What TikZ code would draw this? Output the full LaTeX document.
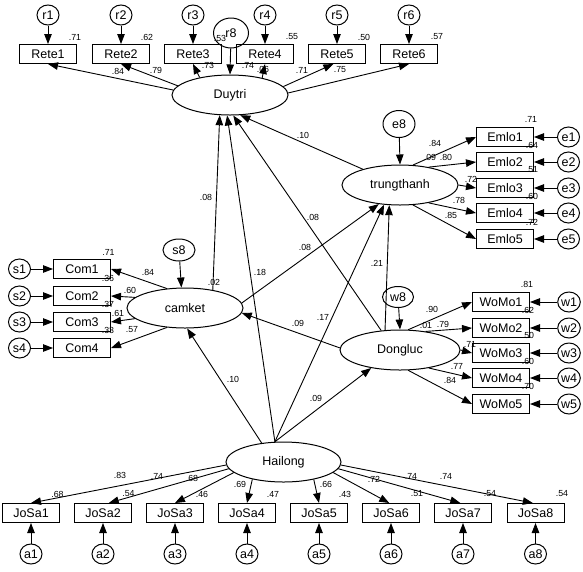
\documentclass[tikz,border=0pt]{standalone}
\usepackage{fontspec}
\setmainfont{Liberation Sans}
\usetikzlibrary{shapes.geometric,arrows.meta,calc}
\begin{document}
\begin{tikzpicture}[x=1pt,y=-1pt,
  lat/.style={ellipse,draw,line width=1pt,minimum width=116pt,minimum height=40pt,inner sep=0pt,font=\fontsize{12.5}{14}\selectfont},
  obs/.style={rectangle,draw,line width=1pt,minimum width=57pt,minimum height=19pt,inner sep=0pt,font=\fontsize{12.5}{14}\selectfont},
  err/.style={ellipse,draw,line width=1pt,minimum width=22pt,minimum height=20pt,inner sep=0pt,font=\fontsize{12.5}{14}\selectfont},
  num/.style={inner sep=0pt,font=\fontsize{8.8}{10}\selectfont},
  arr/.style={line width=0.9pt,-{Triangle[length=10pt,width=7.5pt]}}]
\useasboundingbox (0,0) rectangle (583,571);

% ---------- latent variables ----------
\node[lat] (dy) at (230,95) {Duytri};
\node[lat] (tt) at (400,185) {trungthanh};
\node[lat] (ck) at (185,308) {camket};
\node[lat,minimum width=120pt] (dl) at (400,350) {Dongluc};
\node[lat,minimum width=115pt] (hl) at (283.5,462) {Hailong};

% ---------- residuals of latents ----------
\node[err,minimum width=35pt,minimum height=30pt] (r8) at (231,33) {r8};
\node[err,minimum width=32pt,minimum height=27pt] (e8) at (399,124) {e8};
\node[err,minimum width=32pt,minimum height=22pt] (s8) at (179,250) {s8};
\node[err,minimum width=31pt,minimum height=21pt] (w8) at (398,297) {w8};

% ---------- Rete ----------
\foreach \i/\x in {1/48,2/121,3/193,4/265,5/337,6/409}{
  \node[obs] (Rete\i) at (\x,54) {Rete\i};
  \node[err] (r\i) at (\x,15) {r\i};
  \draw[arr] (r\i) -- (Rete\i.north);
}
% ---------- Emlo ----------
\foreach \i/\y in {1/137,2/162,3/188,4/213,5/239}{
  \node[obs] (Emlo\i) at (505,\y) {Emlo\i};
  \node[err] (e\i) at (568.5,\y) {e\i};
  \draw[arr] (e\i) -- (Emlo\i.east);
}
% ---------- Com ----------
\foreach \i/\y in {1/269,2/296,3/322,4/348}{
  \node[obs] (Com\i) at (82,\y) {Com\i};
  \node[err] (s\i) at (19.5,\y) {s\i};
  \draw[arr] (s\i) -- (Com\i.west);
}
% ---------- WoMo ----------
\foreach \i/\y in {1/302,2/328,3/353,4/378,5/404}{
  \node[obs] (WoMo\i) at (501,\y) {WoMo\i};
  \node[err] (w\i) at (569,\y) {w\i};
  \draw[arr] (w\i) -- (WoMo\i.east);
}
% ---------- JoSa ----------
\foreach \i/\x in {1/31,2/103,3/175,4/247,5/319,6/391,7/463,8/535.5}{
  \node[obs] (JoSa\i) at (\x,513) {JoSa\i};
  \node[err] (a\i) at (\x,554) {a\i};
  \draw[arr] (a\i) -- (JoSa\i.south);
}

% ---------- residual arrows to latents ----------
\draw[arr] (r8) -- (dy.north);
\draw[arr] (e8) -- (tt.north);
\draw[arr] (s8) -- (ck.100);
\draw[arr] (w8) -- (dl.north);

% ---------- loadings ----------
\draw[arr] (dy.175) -- (Rete1.south);
\draw[arr] (dy.170) -- (Rete2.south);
\draw[arr] (dy.150) -- (Rete3.south);
\draw[arr] (dy.28) -- (Rete4.south);
\draw[arr] (dy.9) -- (Rete5.-110);
\draw[arr] (dy.2) -- (Rete6.south);

\draw[arr] (tt.57) -- (Emlo1.west);
\draw[arr] (tt.32) -- (Emlo2.west);
\draw[arr] (tt.0) -- (Emlo3.west);
\draw[arr] (tt.-32) -- (Emlo4.west);
\draw[arr] (tt.-57) -- (Emlo5.west);

\draw[arr] (ck.133) -- (Com1.east);
\draw[arr] (ck.168) -- (Com2.east);
\draw[arr] (ck.-168) -- (Com3.east);
\draw[arr] (ck.-133) -- (Com4.east);

\draw[arr] (dl.68) -- (WoMo1.west);
\draw[arr] (dl.36) -- (WoMo2.west);
\draw[arr] (dl.0) -- (WoMo3.west);
\draw[arr] (dl.-32) -- (WoMo4.west);
\draw[arr] (dl.-68) -- (WoMo5.west);

\draw[arr] (hl.-177) -- (JoSa1.north);
\draw[arr] (hl.-173) -- (JoSa2.60);
\draw[arr] (hl.-168) -- (JoSa3.north);
\draw[arr] (hl.-151) -- (JoSa4.north);
\draw[arr] (hl.-30) -- (JoSa5.north);
\draw[arr] (hl.-12) -- (JoSa6.100);
\draw[arr] (hl.-7) -- (JoSa7.105);
\draw[arr] (hl.-3) -- (JoSa8.105);

% ---------- structural paths ----------
\draw[arr] (ck.33) -- (dy.-117);
\draw[arr] (hl.113) -- (dy.-98);
\draw[arr] (dl.134) -- (dy.-81);
\draw[arr] (tt.157) -- (dy.-63);
\draw[arr] (ck.5) -- (tt.-138);
\draw[arr] (hl.113) -- (tt.-129);
\draw[arr] (dl.127) -- (tt.-118);
\draw[arr] (dl.178) -- (ck.-5);
\draw[arr] (hl.139) -- (ck.-84);
\draw[arr] (hl.113) -- (dl.-148);

% ---------- numbers: Rete ----------
\node[num] (q1) at (75,37) {.71};
\node[num] (q2) at (147,37) {.62};
\node[num] (q3) at (220,38) {.53};
\node[num] (q4) at (292,37) {.55};
\node[num] (q5) at (364,37) {.50};
\node[num] (q6) at (437,37) {.57};
\node[num] (p1) at (118,71) {.84};
\node[num] (p2) at (156,70) {.79};
\node[num] (p3) at (208,65) {.73};
\node[num] (p4) at (248,65) {.74};
\node[num] (p5) at (302,70) {.71};
\node[num] (p6) at (340,70) {.75};
\node[num] (rdy) at (263,69) {.06};

% ---------- numbers: Emlo ----------
\node[num] (qe1) at (531,119) {.71};
\node[num] (qe2) at (532,145) {.64};
\node[num] (qe3) at (532,170) {.51};
\node[num] (qe4) at (532,196) {.60};
\node[num] (qe5) at (532,222) {.72};
\node[num] (pe1) at (435,143) {.84};
\node[num] (rtt) at (430,157) {.09};
\node[num] (pe2) at (446,157) {.80};
\node[num] (pe3) at (471,179) {.72};
\node[num] (pe4) at (459,200) {.78};
\node[num] (pe5) at (451,215) {.85};

% ---------- numbers: WoMo ----------
\node[num] (qw1) at (527,284) {.81};
\node[num] (qw2) at (528,310) {.62};
\node[num] (qw3) at (528,335) {.50};
\node[num] (qw4) at (528,361) {.60};
\node[num] (qw5) at (528,386) {.70};
\node[num] (pw1) at (432,309) {.90};
\node[num] (rdl) at (426,325) {.01};
\node[num] (pw2) at (443,324) {.79};
\node[num] (pw3) at (470,344) {.71};
\node[num] (pw4) at (457,366) {.77};
\node[num] (pw5) at (450,380) {.84};

% ---------- numbers: Com ----------
\node[num] (qc1) at (108.5,252) {.71};
\node[num] (qc2) at (108,278) {.36};
\node[num] (qc3) at (108,304) {.37};
\node[num] (qc4) at (108,330) {.33};
\node[num] (pc1) at (148,272) {.84};
\node[num] (pc2) at (130,290) {.60};
\node[num] (pc3) at (118,313) {.61};
\node[num] (pc4) at (132,330) {.57};
\node[num] (rck) at (214,282) {.02};

% ---------- numbers: JoSa ----------
\node[num] (qj1) at (57.5,494) {.68};
\node[num] (qj2) at (128.5,494) {.54};
\node[num] (qj3) at (202,494) {.46};
\node[num] (qj4) at (273,494) {.47};
\node[num] (qj5) at (345,494) {.43};
\node[num] (qj6) at (417,494) {.51};
\node[num] (qj7) at (490,494) {.54};
\node[num] (qj8) at (562,494) {.54};
\node[num] (pj1) at (120,475) {.83};
\node[num] (pj2) at (157,476) {.74};
\node[num] (pj3) at (192,478) {.68};
\node[num] (pj4) at (240,484) {.69};
\node[num] (pj5) at (326,484) {.66};
\node[num] (pj6) at (374,479) {.72};
\node[num] (pj7) at (411,476) {.74};
\node[num] (pj8) at (446,476) {.74};

% ---------- numbers: structural ----------
\node[num] (s01) at (303,135) {.10};
\node[num] (s02) at (206,197) {.08};
\node[num] (s03) at (313,217) {.08};
\node[num] (s04) at (305,247) {.08};
\node[num] (s05) at (260,272) {.18};
\node[num] (s06) at (377,263) {.21};
\node[num] (s07) at (298,323) {.09};
\node[num] (s08) at (323,317) {.17};
\node[num] (s09) at (233,379) {.10};
\node[num] (s10) at (316,398) {.09};
\end{tikzpicture}
\end{document}
